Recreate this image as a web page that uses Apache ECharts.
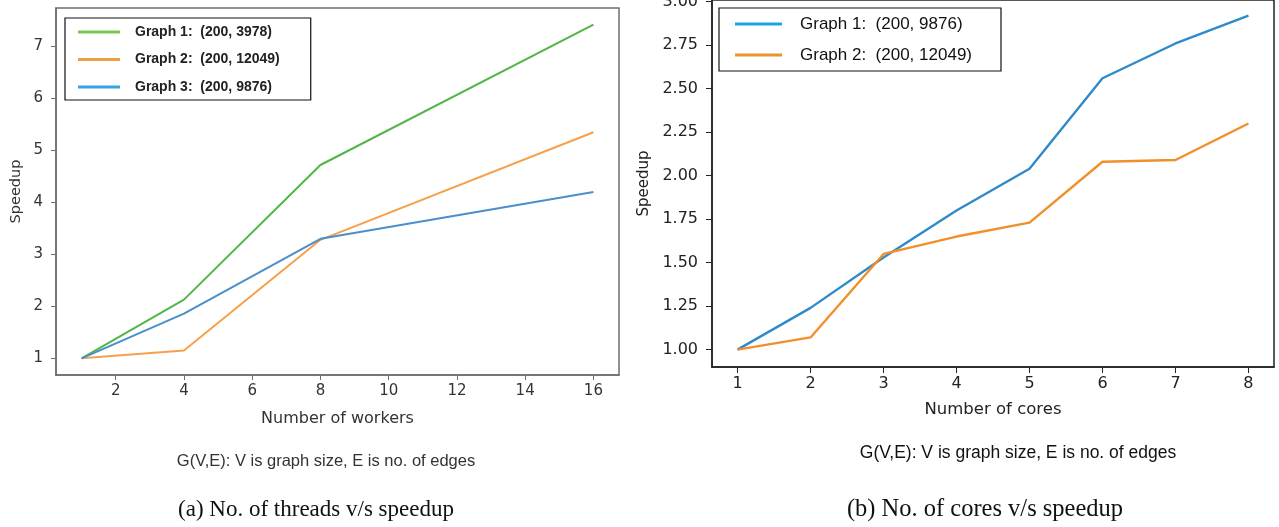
<!DOCTYPE html>
<html>
<head>
<meta charset="utf-8">
<title>Speedup charts</title>
<script src="https://cdn.jsdelivr.net/npm/echarts@6/dist/echarts.min.js"></script>
<style>
  html, body { margin: 0; padding: 0; background: #fff; }
  #chart { width: 1279px; height: 527px; }
</style>
</head>
<body>
<div id="chart"></div>
<script>
// (a) threads
var workers = [1, 4, 8, 16];
var threadsG1 = [1.00, 2.13, 4.72, 7.42];
var threadsG2 = [1.00, 1.15, 3.28, 5.35];
var threadsG3 = [1.00, 1.86, 3.30, 4.20];
var workerTicks = [2, 4, 6, 8, 10, 12, 14, 16];
var speedTicksA = [1, 2, 3, 4, 5, 6, 7];
var namesA = ['Graph 1:  (200, 3978)', 'Graph 2:  (200, 12049)', 'Graph 3:  (200, 9876)'];

// (b) cores
var cores = [1, 2, 3, 4, 5, 6, 7, 8];
var coresG1 = [1.00, 1.24, 1.53, 1.80, 2.04, 2.56, 2.76, 2.92];
var coresG2 = [1.00, 1.07, 1.55, 1.65, 1.73, 2.08, 2.09, 2.30];
var speedTicksB = [1.00, 1.25, 1.50, 1.75, 2.00, 2.25, 2.50, 2.75, 3.00];
var namesB = ['Graph 1:  (200, 9876)', 'Graph 2:  (200, 12049)'];

var pairs = function (xs, ys) {
    return xs.map(function (x, i) { return [x, ys[i]]; });
};

var chart = echarts.init(document.getElementById('chart'));
var tickFont = 'DejaVu Sans';

var option = {
    animation: false,
    grid: [
        { left: 56, top: 8, width: 563, height: 367, show: true, borderColor: '#6e6e6e', borderWidth: 1.5, outerBoundsMode: 'none' },
        { left: 712, top: 0, width: 562, height: 367, show: true, borderColor: '#222', borderWidth: 1.5, outerBoundsMode: 'none' }
    ],
    xAxis: [{
        gridIndex: 0, type: 'value', min: 0.25, max: 16.75,
        name: 'Number of workers', nameLocation: 'middle', nameGap: 36,
        nameTextStyle: { fontFamily: tickFont, fontSize: 16, color: '#333' },
        axisLine: { lineStyle: { color: '#6e6e6e', width: 1.5 } },
        axisTick: { customValues: workerTicks, length: 5, lineStyle: { color: '#6e6e6e' } },
        axisLabel: { customValues: workerTicks, margin: 9, fontFamily: tickFont, fontSize: 15, color: '#333' },
        splitLine: { show: false }
    }, {
        gridIndex: 1, type: 'value', min: 0.65, max: 8.35,
        name: 'Number of cores', nameLocation: 'middle', nameGap: 34,
        nameTextStyle: { fontFamily: tickFont, fontSize: 16.5, color: '#222' },
        axisLine: { lineStyle: { color: '#222', width: 1.5 } },
        axisTick: { customValues: cores, length: 6, lineStyle: { color: '#222' } },
        axisLabel: { customValues: cores, margin: 9, fontFamily: tickFont, fontSize: 16, color: '#222' },
        splitLine: { show: false }
    }],
    yAxis: [{
        gridIndex: 0, type: 'value', min: 0.68, max: 7.74,
        name: 'Speedup', nameLocation: 'middle', nameGap: 32, nameRotate: 90,
        nameTextStyle: { fontFamily: tickFont, fontSize: 14.5, color: '#333' },
        axisLine: { show: true, lineStyle: { color: '#6e6e6e', width: 1.5 } },
        axisTick: { show: true, customValues: speedTicksA, length: 5, lineStyle: { color: '#6e6e6e' } },
        axisLabel: { customValues: speedTicksA, margin: 13, fontFamily: tickFont, fontSize: 15, color: '#333' },
        splitLine: { show: false }
    }, {
        gridIndex: 1, type: 'value', min: 0.9, max: 3.01,
        name: 'Speedup', nameLocation: 'middle', nameGap: 60, nameRotate: 90,
        nameTextStyle: { fontFamily: tickFont, fontSize: 15, color: '#222' },
        axisLine: { show: true, lineStyle: { color: '#222', width: 1.5 } },
        axisTick: { show: true, customValues: speedTicksB, length: 6, lineStyle: { color: '#222' } },
        axisLabel: {
            customValues: speedTicksB, margin: 14, fontFamily: tickFont, fontSize: 16, color: '#222',
            formatter: function (v) { return v.toFixed(2); }
        },
        splitLine: { show: false }
    }],
    legend: [{
        orient: 'vertical', left: 65, top: 18,
        padding: [6, 31, 5, 13], itemGap: 11.5,
        itemWidth: 42, itemHeight: 3, icon: 'rect',
        borderColor: '#111', borderWidth: 1.2, borderRadius: 0,
        textStyle: { fontFamily: 'Liberation Sans', fontSize: 14, fontWeight: 'bold', color: '#222', lineHeight: 16, padding: [0, 0, 0, 10] },
        data: [
            { name: namesA[0], itemStyle: { color: '#77c84a' } },
            { name: namesA[1], itemStyle: { color: '#eea040' } },
            { name: namesA[2], itemStyle: { color: '#33a6df' } }
        ],
        selectedMode: false
    }, {
        orient: 'vertical', left: 719, top: 8,
        padding: [7, 29, 7, 16], itemGap: 13,
        itemWidth: 47, itemHeight: 3, icon: 'rect',
        borderColor: '#111', borderWidth: 1.2, borderRadius: 0,
        textStyle: { fontFamily: 'Liberation Sans', fontSize: 17, color: '#111', lineHeight: 18, padding: [0, 0, 0, 13] },
        data: [
            { name: namesB[0], itemStyle: { color: '#1ea3e3' } },
            { name: namesB[1], itemStyle: { color: '#e9952e' } }
        ],
        selectedMode: false
    }],
    series: [
        { name: namesA[0], type: 'line', xAxisIndex: 0, yAxisIndex: 0, data: pairs(workers, threadsG1),
          showSymbol: false, lineStyle: { color: '#52b548', width: 2 }, itemStyle: { color: '#52b548' } },
        { name: namesA[1], type: 'line', xAxisIndex: 0, yAxisIndex: 0, data: pairs(workers, threadsG2),
          showSymbol: false, lineStyle: { color: '#f7a04a', width: 2 }, itemStyle: { color: '#f7a04a' } },
        { name: namesA[2], type: 'line', xAxisIndex: 0, yAxisIndex: 0, data: pairs(workers, threadsG3),
          showSymbol: false, lineStyle: { color: '#4a8fca', width: 2 }, itemStyle: { color: '#4a8fca' } },
        { name: namesB[0], type: 'line', xAxisIndex: 1, yAxisIndex: 1, data: pairs(cores, coresG1),
          showSymbol: false, lineStyle: { color: '#2f8acb', width: 2.4 }, itemStyle: { color: '#2f8acb' } },
        { name: namesB[1], type: 'line', xAxisIndex: 1, yAxisIndex: 1, data: pairs(cores, coresG2),
          showSymbol: false, lineStyle: { color: '#f28f2a', width: 2.4 }, itemStyle: { color: '#f28f2a' } }
    ],
    graphic: [
        { type: 'text', x: 326, y: 461, style: { text: 'G(V,E): V is graph size, E is no. of edges', textAlign: 'center', textVerticalAlign: 'middle',
          font: '16.5px "Liberation Sans", sans-serif', fill: '#333' } },
        { type: 'text', x: 1018, y: 453, style: { text: 'G(V,E): V is graph size, E is no. of edges', textAlign: 'center', textVerticalAlign: 'middle',
          font: '17.5px "Liberation Sans", sans-serif', fill: '#111' } },
        { type: 'text', x: 316, y: 510, style: { text: '(a) No. of threads v/s speedup', textAlign: 'center', textVerticalAlign: 'middle',
          font: '23px "Liberation Serif", serif', fill: '#111' } },
        { type: 'text', x: 985, y: 510, style: { text: '(b) No. of cores v/s speedup', textAlign: 'center', textVerticalAlign: 'middle',
          font: '24.5px "Liberation Serif", serif', fill: '#111' } }
    ]
};

option && chart.setOption(option);

window.addEventListener('resize', function () {
    chart.resize();
});
</script>
</body>
</html>
